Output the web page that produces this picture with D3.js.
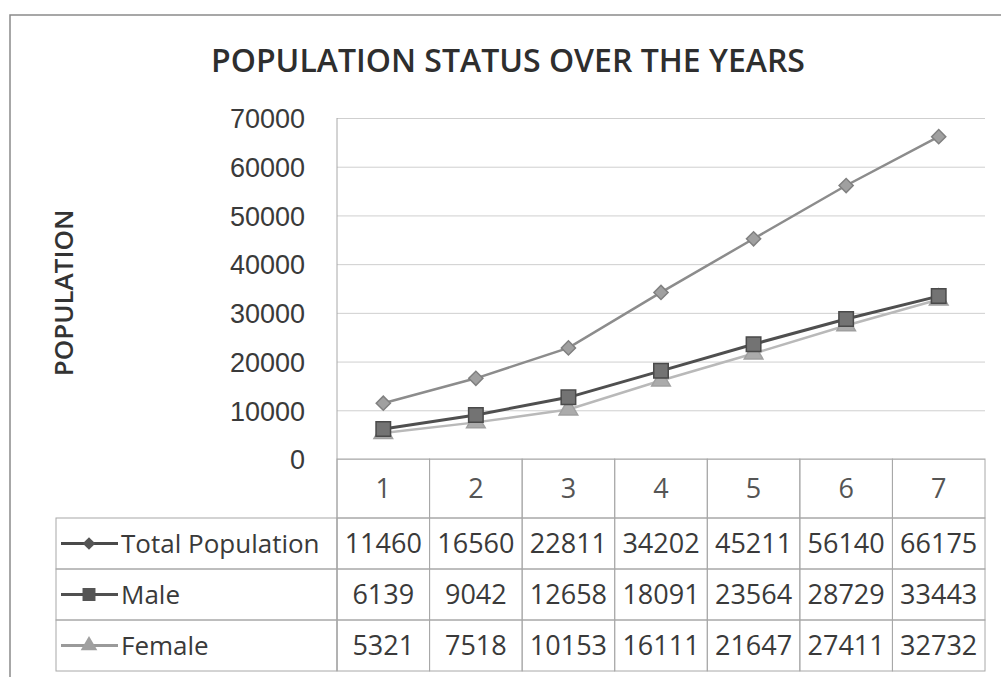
<!DOCTYPE html>
<html>
<head>
<meta charset="UTF-8">
<title>Population Status Over The Years</title>
<style>
  body { margin: 0; background: #fff; }
  svg { display: block; font-family: "Open Sans", sans-serif; }
  .grid line { stroke: #cfcfcf; stroke-width: 1; }
  .grid path { display: none; }
  .ylab text { fill: #3a3a3a; font-size: 27px; }
  .cell { stroke: #a8a8a8; stroke-width: 1; fill: none; }
  .val { fill: #3a3a3a; font-size: 27px; text-anchor: middle; }
</style>
</head>
<body>
<div id="chart"></div>
<script src="https://cdnjs.cloudflare.com/ajax/libs/d3/7.8.5/d3.min.js"></script>
<script>
const categories = ["1", "2", "3", "4", "5", "6", "7"];
const totalPopulation = [11460, 16560, 22811, 34202, 45211, 56140, 66175];
const male = [6139, 9042, 12658, 18091, 23564, 28729, 33443];
const female = [5321, 7518, 10153, 16111, 21647, 27411, 32732];
const yTicks = [0, 10000, 20000, 30000, 40000, 50000, 60000, 70000];
const seriesNames = ["Total Population", "Male", "Female"];

const width = 1001, height = 681;
const plotL = 337, plotR = 985, plotT = 118, plotB = 459;
const headH = 59, rowH = 51, legendL = 56;

const series = [
  {name: seriesNames[0], values: totalPopulation, line: "#8c8c8c", lw: 2.5, lineLeg: "#4a4a4a", mk: "diamond", fill: "#a0a0a0", stroke: "#808080", size: 100},
  {name: seriesNames[1], values: male, line: "#4f4f4f", lw: 3, lineLeg: "#505050", mk: "square", fill: "#737373", stroke: "#4a4a4a", size: 210},
  {name: seriesNames[2], values: female, line: "#b9b9b9", lw: 2.5, lineLeg: "#9a9a9a", mk: "triangle", fill: "#ababab", stroke: "#a0a0a0", size: 150}
];
const symbols = {diamond: d3.symbolSquare, square: d3.symbolSquare, triangle: d3.symbolTriangle};
const rot = mk => mk === "diamond" ? " rotate(45)" : "";

const svg = d3.select("#chart").append("svg").attr("width", width).attr("height", height);

// outer frame (scanned page edge)
svg.append("path")
  .attr("d", `M10,677 L10,15 L1001,15`)
  .attr("fill", "none").attr("stroke", "#8a8a8a").attr("stroke-width", 1.5);

const x = d3.scaleBand().domain(categories).range([plotL, plotR]);
const y = d3.scaleLinear().domain([0, 70000]).range([plotB, plotT]);

// title
svg.append("text")
  .attr("x", 508).attr("y", 72)
  .attr("text-anchor", "middle")
  .attr("font-size", 32).attr("font-weight", 600).attr("fill", "#2e2e2e")
  .text("POPULATION STATUS OVER THE YEARS");

// gridlines
svg.append("g").attr("class", "grid")
  .attr("transform", `translate(${plotL},0)`)
  .call(d3.axisRight(y).tickValues(yTicks).tickSize(plotR - plotL).tickFormat(""));

// y labels
svg.append("g").attr("class", "ylab")
  .attr("transform", `translate(${plotL},0)`)
  .call(d3.axisLeft(y).tickValues(yTicks).tickSize(0).tickPadding(32).tickFormat(d3.format("d")))
  .call(g => g.select(".domain").remove())
  .call(g => g.selectAll("text").attr("dy", "0.36em"));

// y title
svg.append("text")
  .attr("transform", "translate(73,293) rotate(-90)")
  .attr("text-anchor", "middle")
  .attr("font-size", 26).attr("font-weight", 600).attr("fill", "#333")
  .text("POPULATION");

// vertical axis line
svg.append("line")
  .attr("x1", plotL).attr("x2", plotL).attr("y1", plotT).attr("y2", plotB + headH + rowH * 3)
  .attr("stroke", "#a8a8a8");

// lines and markers
const line = d3.line().x((d, i) => x(categories[i]) + x.bandwidth() / 2).y(d => y(d));
const order = [2, 1, 0];
order.forEach(k => {
  const s = series[k];
  svg.append("path").datum(s.values)
    .attr("d", line).attr("fill", "none")
    .attr("stroke", s.line).attr("stroke-width", s.lw);
  svg.append("g").selectAll("path").data(s.values).join("path")
    .attr("transform", (d, i) => `translate(${x(categories[i]) + x.bandwidth() / 2},${y(d)})` + rot(s.mk))
    .attr("d", d3.symbol().type(symbols[s.mk]).size(s.size))
    .attr("fill", s.fill).attr("stroke", s.stroke).attr("stroke-width", 1.5);
});

// data table: header row
const head = svg.append("g");
head.selectAll("rect").data(categories).join("rect")
  .attr("class", "cell")
  .attr("x", d => x(d)).attr("y", plotB)
  .attr("width", x.bandwidth()).attr("height", headH);
head.selectAll("text").data(categories).join("text")
  .attr("class", "val")
  .attr("x", d => x(d) + x.bandwidth() / 2).attr("y", plotB + headH / 2)
  .attr("dy", "0.36em").style("fill", "#555")
  .text(d => d);

// data table: series rows
series.forEach((s, r) => {
  const top = plotB + headH + r * rowH;
  const g = svg.append("g");
  g.append("rect").attr("class", "cell")
    .attr("x", legendL).attr("y", top).attr("width", plotL - legendL).attr("height", rowH);
  g.selectAll("rect.v").data(categories).join("rect")
    .attr("class", "cell v")
    .attr("x", d => x(d)).attr("y", top)
    .attr("width", x.bandwidth()).attr("height", rowH);
  g.selectAll("text.v").data(s.values).join("text")
    .attr("class", "val v")
    .attr("x", (d, i) => x(categories[i]) + x.bandwidth() / 2)
    .attr("y", top + rowH / 2).attr("dy", "0.36em")
    .text(d => d);
  // legend key
  const cy = top + rowH / 2;
  g.append("line")
    .attr("x1", legendL + 5).attr("x2", legendL + 62).attr("y1", cy).attr("y2", cy)
    .attr("stroke", s.lineLeg).attr("stroke-width", 3);
  g.append("path")
    .attr("transform", `translate(${legendL + 33},${cy})` + rot(s.mk))
    .attr("d", d3.symbol().type(symbols[s.mk]).size(s.size * 0.8))
    .attr("fill", s.mk === "triangle" ? "#a0a0a0" : "#555").attr("stroke", "none");
  g.append("text")
    .attr("x", legendL + 65).attr("y", cy).attr("dy", "0.36em")
    .attr("font-size", 26).attr("fill", "#3a3a3a")
    .text(s.name);
});
</script>
</body>
</html>
